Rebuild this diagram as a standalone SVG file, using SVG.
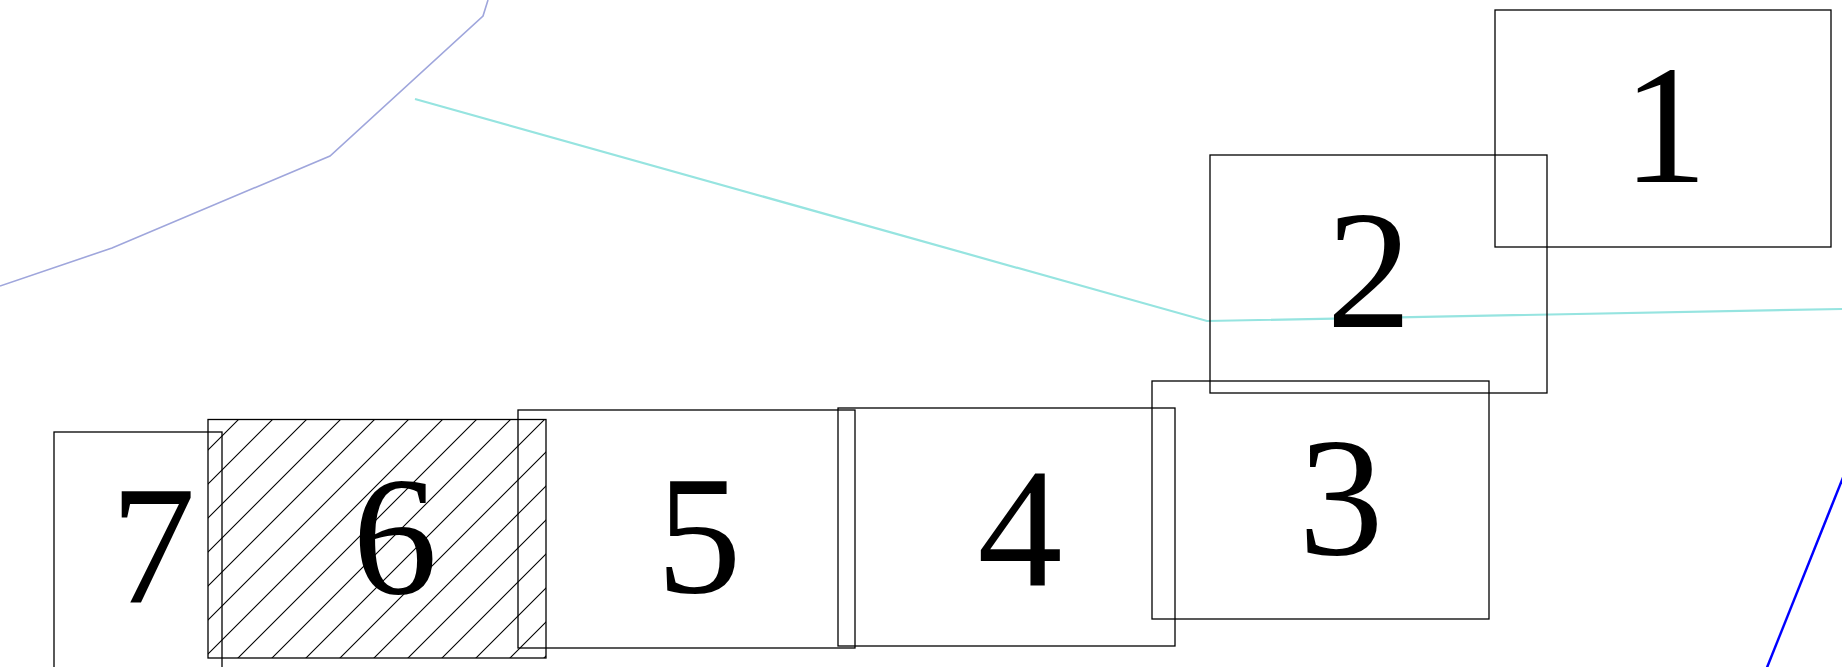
<svg xmlns="http://www.w3.org/2000/svg" width="1842" height="667" viewBox="0 0 1842 667">
<style>
.box{fill:none;stroke:#000;stroke-width:1.3}
.hatched{fill:url(#hatch);stroke:#000;stroke-width:1.3}
.label{font-family:"Liberation Serif","Times New Roman",serif;font-size:170px;fill:#000;text-anchor:middle}
.conn{fill:none;stroke-linejoin:miter}
</style>
<defs>
<pattern id="hatch" patternUnits="userSpaceOnUse" x="12" y="0" width="34" height="34">
<path d="M-8.5,8.5 L8.5,-8.5 M0,34 L34,0 M25.5,42.5 L42.5,25.5" stroke="#000" stroke-width="1.1"/>
</pattern>
</defs>
<rect width="1842" height="667" fill="#fff"/>
<g id="connectors">
<polyline class="conn" points="0,286 112,248 330,156 483,16 488,0" stroke="#9fa6dc" stroke-width="1.6"/>
<polyline class="conn" points="415,99 1207,321 1842,309" stroke="#96e4e0" stroke-width="2.2"/>
<line x1="1850" y1="460" x2="1760" y2="685" stroke="#0000ff" stroke-width="2.5"/>
</g>
<g id="node-7"><rect class="box" x="54" y="432" width="168" height="238"/><text class="label" x="153" y="602">7</text></g>
<g id="node-6"><rect class="hatched" x="208" y="419.5" width="338" height="238.5"/><text class="label" x="395" y="593">6</text></g>
<g id="node-5"><rect class="box" x="518" y="410" width="337" height="238"/><text class="label" x="699" y="592">5</text></g>
<g id="node-4"><rect class="box" x="838" y="408" width="337" height="238"/><text class="label" x="1020" y="585">4</text></g>
<g id="node-3"><rect class="box" x="1152" y="381" width="337" height="238"/><text class="label" x="1341" y="554">3</text></g>
<g id="node-2"><rect class="box" x="1210" y="155" width="337" height="238"/><text class="label" x="1369" y="327">2</text></g>
<g id="node-1"><rect class="box" x="1495" y="10" width="336" height="237"/><text class="label" x="1665" y="182">1</text></g>
</svg>
